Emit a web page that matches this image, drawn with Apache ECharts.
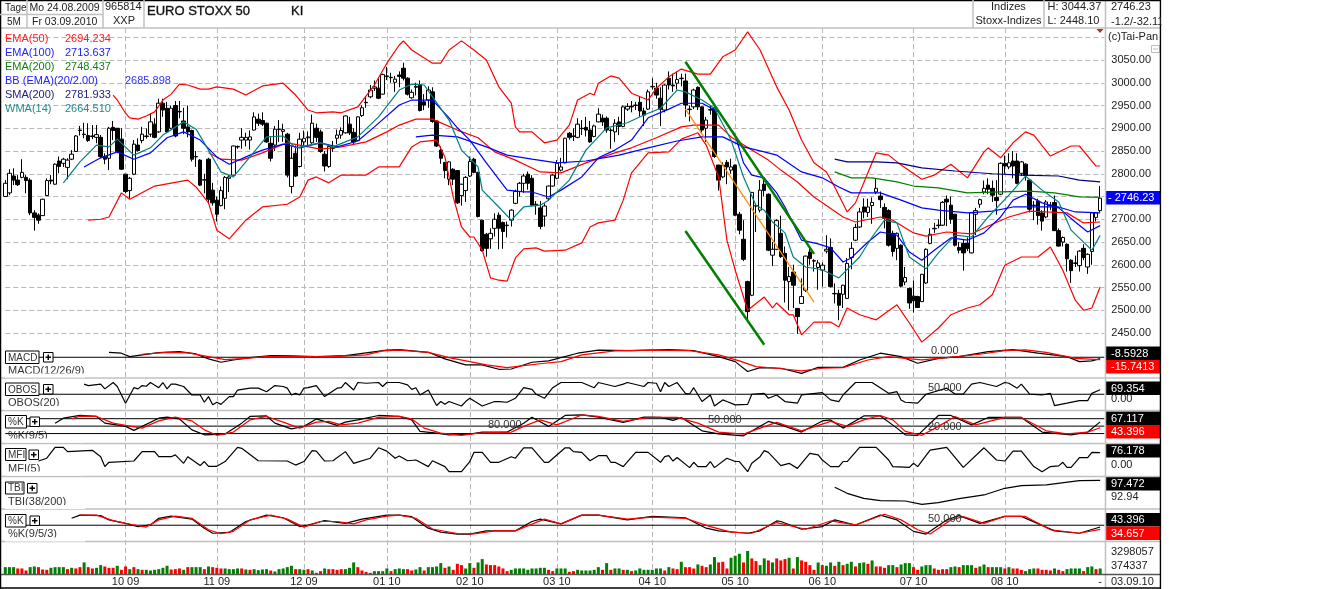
<!DOCTYPE html>
<html>
<head>
<meta charset="utf-8">
<title>EURO STOXX 50</title>
<script src="https://cdn.jsdelivr.net/npm/echarts@6/dist/echarts.min.js"></script>
<style>
  html, body { margin: 0; padding: 0; background: #fff; }
  #chart { width: 1323px; height: 589px; }
</style>
</head>
<body>
<div id="chart"></div>
<script>
// daily candles: [open, close, low, high]
const candles = [
  [2750,2779,2750,2786],[2758,2801,2753,2810],[2795,2786,2775,2812],[2786,2776,2773,2797],[2792,2803,2790,2832],
  [2792,2785,2757,2797],[2786,2714,2709,2790],[2714,2704,2675,2720],[2709,2698,2690,2713],[2708,2744,2708,2745],
  [2752,2785,2751,2790],[2786,2784,2777,2797],[2777,2821,2776,2823],[2828,2816,2801,2838],[2823,2832,2815,2835],
  [2814,2830,2788,2834],[2832,2843,2830,2852],[2849,2883,2848,2885],[2896,2895,2884,2905],[2887,2886,2878,2912],
  [2884,2873,2870,2911],[2883,2882,2876,2907],[2880,2886,2867,2907],[2880,2838,2834,2885],[2838,2832,2821,2845],
  [2834,2900,2808,2903],[2902,2895,2874,2916],[2900,2849,2845,2900],[2876,2810,2808,2900],[2799,2761,2757,2799],
  [2763,2790,2746,2793],[2799,2865,2797,2874],[2863,2851,2849,2878],[2873,2887,2867,2903],[2883,2882,2877,2900],
  [2887,2914,2881,2933],[2909,2880,2878,2922],[2892,2955,2890,2965],[2955,2940,2925,2965],[2944,2892,2890,2958],
  [2900,2944,2898,2950],[2950,2883,2880,2960],[2937,2936,2922,2960],[2916,2900,2887,2945],[2903,2892,2880,2950],
  [2895,2832,2827,2897],[2838,2837,2815,2850],[2830,2775,2773,2832],[2787,2786,2757,2800],[2832,2744,2735,2835],
  [2764,2736,2730,2780],[2742,2711,2695,2750],[2730,2763,2728,2772],[2746,2792,2722,2795],[2790,2793,2760,2797],
  [2797,2861,2796,2862],[2860,2859,2855,2862],[2874,2880,2855,2900],[2874,2880,2860,2890],[2874,2881,2853,2895],
  [2896,2925,2895,2935],[2920,2911,2905,2932],[2917,2909,2905,2935],[2911,2870,2868,2912],[2867,2834,2827,2880],
  [2863,2898,2850,2905],[2898,2897,2870,2918],[2893,2897,2870,2910],[2887,2797,2792,2890],[2772,2834,2757,2860],
  [2845,2795,2793,2862],[2816,2876,2814,2890],[2870,2878,2860,2895],[2879,2881,2860,2893],[2868,2911,2866,2930],
  [2900,2880,2870,2910],[2892,2849,2846,2897],[2843,2817,2805,2850],[2816,2860,2813,2862],[2857,2856,2848,2872],
  [2878,2885,2865,2897],[2885,2895,2877,2902],[2890,2927,2888,2928],[2909,2890,2885,2925],[2891,2870,2865,2900],
  [2873,2925,2872,2926],[2928,2945,2925,2950],[2957,2956,2945,2970],[2969,2984,2966,2995],[2988,2991,2982,3005],
  [2988,2966,2964,3012],[2975,3018,2974,3020],[3015,3014,3006,3035],[3012,3011,3000,3022],[3001,3008,2980,3015],
  [3017,3014,2990,3025],[3032,3010,3005,3044],[3010,2975,2972,3012],[2967,2979,2965,2985],[2990,2992,2972,3000],
  [2996,2939,2937,3005],[2958,2951,2940,2975],[2962,2984,2945,2992],[2980,2915,2912,2990],[2916,2861,2859,2917],
  [2852,2834,2822,2860],[2825,2807,2790,2826],[2788,2826,2775,2827],[2810,2788,2775,2812],[2807,2736,2734,2808],
  [2752,2777,2730,2778],[2763,2792,2738,2795],[2795,2827,2793,2838],[2832,2803,2801,2835],[2803,2706,2704,2804],
  [2698,2631,2629,2699],[2667,2636,2618,2670],[2657,2669,2635,2680],[2680,2700,2662,2713],[2709,2680,2634,2715],
  [2693,2673,2635,2695],[2687,2686,2660,2695],[2698,2720,2684,2722],[2735,2761,2733,2765],[2761,2779,2750,2782],
  [2779,2795,2758,2800],[2799,2779,2765,2805],[2790,2731,2729,2797],[2733,2730,2710,2740],[2725,2684,2678,2740],
  [2707,2729,2684,2735],[2745,2773,2740,2774],[2773,2797,2772,2800],[2790,2823,2788,2830],[2808,2815,2805,2835],
  [2824,2878,2823,2879],[2889,2880,2875,2892],[2883,2882,2872,2900],[2880,2909,2878,2922],[2900,2899,2885,2918],
  [2902,2896,2882,2925],[2896,2870,2868,2916],[2882,2905,2880,2908],[2914,2931,2913,2944],[2922,2914,2905,2930],
  [2922,2896,2890,2926],[2896,2895,2855,2900],[2892,2911,2870,2920],[2914,2904,2885,2925],[2904,2947,2902,2950],
  [2942,2948,2938,2955],[2948,2947,2935,2960],[2950,2951,2940,2958],[2957,2938,2925,2970],[2938,2929,2905,2945],
  [2942,2980,2940,2985],[2992,2991,2985,3010],[2988,2973,2965,3000],[2966,2942,2905,2990],[2940,2995,2935,2997],
  [3010,2995,2985,3025],[2995,2993,2980,3020],[2999,3007,2985,3025],[3010,3009,2992,3020],[3004,2951,2925,3020],
  [2942,2941,2915,2950],[2947,2984,2942,2987],[2990,2947,2940,2992],[2947,2896,2890,2948],[2900,2918,2870,2925],
  [2940,2941,2930,2950],[2944,2838,2835,2946],[2819,2786,2763,2820],[2793,2819,2790,2825],[2825,2815,2777,2830],
  [2808,2815,2800,2833],[2819,2709,2707,2820],[2711,2676,2667,2716],[2656,2612,2608,2698],[2563,2497,2475,2565],
  [2533,2759,2531,2760],[2730,2729,2672,2735],[2720,2764,2715,2786],[2777,2763,2750,2790],[2755,2632,2630,2757],
  [2621,2634,2597,2650],[2634,2697,2632,2700],[2669,2618,2615,2708],[2625,2566,2517,2640],[2563,2574,2500,2595],
  [2584,2555,2505,2600],[2504,2486,2448,2505],[2515,2530,2514,2570],[2544,2619,2540,2620],[2628,2614,2600,2640],
  [2609,2608,2585,2612],[2594,2604,2545,2610],[2588,2599,2552,2605],[2630,2634,2625,2665],[2638,2552,2550,2658],
  [2537,2536,2515,2559],[2537,2511,2478,2545],[2535,2555,2505,2556],[2526,2603,2525,2615],[2616,2636,2590,2650],
  [2654,2682,2652,2690],[2683,2716,2681,2725],[2727,2716,2702,2746],[2715,2727,2705,2745],[2730,2737,2690,2748],
  [2760,2768,2755,2789],[2751,2743,2725,2761],[2726,2702,2680,2735],[2719,2643,2640,2722],[2669,2629,2618,2675],
  [2636,2669,2610,2671],[2643,2553,2550,2645],[2562,2572,2555,2595],[2548,2516,2503,2550],[2531,2521,2495,2565],
  [2530,2506,2505,2532],[2519,2579,2518,2580],[2560,2634,2558,2636],[2647,2667,2645,2680],[2680,2679,2670,2692],
  [2687,2686,2680,2700],[2687,2737,2685,2740],[2744,2738,2685,2752],[2731,2700,2690,2750],[2711,2643,2640,2712],
  [2638,2632,2625,2650],[2647,2626,2587,2655],[2647,2636,2630,2660],[2626,2714,2625,2716],[2711,2719,2665,2725],
  [2733,2743,2725,2745],[2760,2768,2755,2785],[2775,2766,2755,2790],[2768,2753,2738,2785],[2748,2741,2710,2786],
  [2755,2823,2753,2825],[2823,2817,2800,2840],[2815,2824,2810,2845],[2828,2817,2790,2850],[2828,2779,2777,2845],
  [2801,2826,2795,2828],[2821,2796,2785,2823],[2786,2722,2715,2788],[2731,2730,2698,2740],[2740,2708,2688,2745],
  [2714,2696,2675,2720],[2705,2738,2702,2742],[2731,2730,2720,2738],[2737,2675,2674,2752],[2675,2641,2640,2680],
  [2650,2660,2640,2662],[2645,2613,2585,2647],[2610,2587,2560,2612],[2604,2603,2595,2620],[2598,2630,2585,2632],
  [2636,2616,2610,2645],[2595,2623,2580,2625],[2629,2714,2600,2716],[2704,2714,2695,2716],[2719,2746.23,2715,2773]
]

// overlays, sampled along the curves: [bar index, value]
const bbUpper = [[26,2973],[27,2962],[29,2933],[30,2923],[32,2920],[34,2927],[36,2936],[38,2962],[40,2975],[42,2997],[44,2995],[47,2986],[49,2986],[51,2991],[55,2986],[58,2973],[62,2993],[67,2999],[70,2973],[73,2940],[75,2934],[79,2936],[81,2934],[85,2947],[89,2995],[92,3043],[95,3083],[96,3092],[98,3072],[103,3043],[105,3043],[107,3072],[110,3092],[113,3072],[116,3050],[119,2991],[122,2955],[123,2903],[124,2892],[127,2892],[130,2868],[133,2874],[136,2907],[138,2962],[141,2977],[142,2973],[143,2999],[146,3015],[148,3010],[151,2977],[155,2962],[157,2988],[160,3013],[163,3030],[167,3019],[170,3019],[173,3057],[176,3072],[179,3112],[182,3072],[186,2991],[189,2940],[192,2874],[195,2824],[198,2804],[200,2771],[203,2716],[205,2736],[208,2802],[210,2846],[213,2841],[216,2819],[221,2788],[224,2797],[228,2821],[232,2791],[236,2848],[237,2857],[240,2835],[243,2868],[246,2892],[248,2885],[252,2839],[257,2861],[259,2861],[263,2817],[264,2817]]
const bbLower = [[20,2698],[23,2700],[25,2705],[28,2758],[30,2744],[36,2773],[44,2786],[46,2771],[49,2736],[51,2676],[54,2657],[58,2698],[62,2727],[68,2733],[71,2749],[73,2786],[75,2793],[78,2780],[81,2797],[87,2797],[90,2815],[95,2815],[98,2859],[100,2870],[104,2874],[106,2837],[108,2749],[110,2683],[112,2661],[113,2661],[115,2632],[117,2571],[119,2566],[121,2564],[123,2615],[125,2635],[128,2637],[130,2630],[135,2632],[139,2648],[141,2683],[143,2692],[147,2698],[149,2742],[151,2802],[155,2846],[160,2848],[163,2876],[167,2890],[169,2863],[172,2793],[174,2654],[176,2588],[179,2500],[183,2529],[185,2505],[186,2516],[189,2490],[190,2490],[192,2446],[195,2474],[199,2474],[201,2463],[203,2505],[206,2490],[210,2479],[215,2512],[218,2472],[221,2430],[225,2461],[228,2490],[232,2505],[235,2512],[238,2534],[241,2599],[245,2617],[249,2617],[252,2639],[255,2588],[258,2522],[260,2500],[262,2505],[264,2551]]
const bbMid = [[19,2815],[23,2835],[27,2848],[31,2832],[35,2846],[39,2879],[43,2892],[47,2874],[51,2837],[54,2821],[59,2841],[62,2852],[67,2865],[71,2857],[76,2868],[80,2859],[85,2872],[89,2903],[95,2951],[98,2962],[103,2962],[107,2923],[109,2901],[112,2874],[116,2824],[121,2764],[125,2760],[127,2760],[131,2749],[134,2764],[139,2793],[143,2835],[147,2852],[151,2874],[155,2923],[160,2942],[163,2955],[168,2955],[172,2936],[176,2885],[178,2824],[180,2797],[183,2791],[186,2758],[188,2727],[192,2654],[196,2646],[199,2637],[202,2606],[204,2615],[208,2650],[211,2672],[215,2665],[218,2628],[221,2610],[224,2632],[228,2659],[232,2654],[236,2670],[240,2705],[243,2742],[246,2755],[250,2736],[254,2725],[258,2694],[261,2672],[264,2686]]
const ema50 = [[49,2846],[52,2832],[57,2830],[62,2846],[68,2868],[76,2854],[81,2859],[87,2870],[92,2892],[95,2907],[99,2920],[103,2920],[109,2896],[114,2879],[118,2848],[123,2830],[129,2804],[134,2802],[140,2824],[147,2846],[151,2857],[157,2879],[163,2903],[166,2907],[172,2907],[175,2881],[180,2852],[184,2830],[187,2808],[191,2782],[195,2749],[202,2705],[205,2694],[211,2705],[214,2698],[219,2670],[222,2663],[227,2672],[233,2668],[237,2685],[242,2705],[247,2718],[251,2716],[256,2714],[260,2692],[264,2694]]
const ema100 = [[99,2881],[103,2885],[109,2881],[116,2859],[121,2841],[127,2832],[133,2824],[140,2828],[148,2841],[155,2857],[162,2872],[168,2881],[173,2881],[178,2859],[183,2848],[186,2841],[192,2804],[197,2791],[201,2771],[204,2758],[211,2758],[216,2742],[221,2725],[225,2720],[232,2714],[238,2718],[243,2727],[248,2727],[254,2727],[258,2716],[264,2714]]
const ema200 = [[200,2804],[204,2791],[209,2791],[215,2782],[219,2773],[225,2769],[232,2758],[240,2760],[247,2762],[253,2758],[259,2749],[264,2748]]
const sma200 = [[200,2832],[203,2826],[210,2826],[215,2824],[221,2813],[229,2806],[238,2800],[245,2797],[254,2795],[259,2786],[264,2782]]
const wma14 = [[14,2780],[18,2826],[22,2863],[25,2859],[27,2876],[31,2841],[35,2857],[38,2885],[43,2914],[46,2898],[49,2852],[52,2804],[55,2793],[59,2837],[63,2881],[67,2883],[70,2857],[76,2868],[79,2859],[85,2881],[90,2925],[95,2984],[98,2997],[101,2995],[103,2969],[107,2918],[110,2852],[114,2815],[115,2764],[119,2727],[122,2698],[125,2727],[129,2731],[131,2742],[136,2786],[140,2852],[145,2901],[150,2912],[154,2929],[158,2944],[162,2984],[164,2980],[168,2962],[171,2944],[175,2874],[178,2793],[181,2731],[183,2720],[185,2694],[188,2670],[190,2617],[193,2595],[197,2589],[201,2571],[206,2617],[209,2661],[212,2698],[215,2692],[218,2617],[222,2591],[225,2626],[229,2665],[233,2661],[237,2705],[242,2753],[246,2795],[250,2764],[254,2738],[257,2676],[262,2632],[264,2664.51]]
// hand drawn trend lines
const trendUpper = [[164,3046],[195,2624]]
const trendLower = [[164,2674],[183,2424]]
const trendOrange = [[164,2942],[195,2518]]

const macd = [[25,33],[28,27],[30,4],[33,16],[37,31],[42,38],[46,22],[49,-11],[52,-33],[55,-18],[59,-2],[64,11],[69,9],[75,4],[82,11],[87,29],[92,47],[95,51],[102,33],[106,-11],[111,-51],[115,-51],[119,-80],[122,-78],[127,-33],[131,-24],[138,27],[143,47],[151,44],[160,51],[166,44],[172,4],[176,-29],[179,-95],[182,-69],[187,-73],[192,-107],[196,-67],[202,-67],[206,-18],[211,27],[216,4],[220,-40],[225,-7],[230,4],[237,38],[243,51],[249,27],[256,4],[259,-29],[262,-24],[264,-8.59]]
const macdSignal = [[33,20],[39,33],[44,29],[49,4],[53,-16],[58,-7],[63,4],[71,4],[79,4],[87,16],[91,42],[95,47],[102,33],[107,-2],[112,-29],[116,-51],[121,-69],[125,-56],[130,-40],[134,-29],[139,16],[147,42],[155,47],[165,44],[172,16],[177,-24],[181,-62],[186,-73],[192,-91],[197,-73],[202,-69],[208,-18],[213,4],[217,-7],[221,-18],[227,-2],[235,20],[241,44],[246,49],[251,33],[258,-7],[264,-15.74]]
const obos = [[19,93],[20,87],[23,93],[24,73],[26,100],[27,83],[29,12],[31,78],[32,73],[33,87],[34,84],[35,100],[37,78],[38,100],[39,73],[40,93],[41,93],[43,83],[45,47],[47,47],[48,16],[49,40],[50,5],[51,16],[52,7],[54,40],[55,40],[56,68],[59,76],[61,76],[63,61],[65,87],[67,83],[68,76],[69,47],[70,54],[71,47],[72,76],[73,78],[75,87],[77,40],[80,76],[81,78],[82,100],[84,68],[85,100],[87,97],[90,100],[91,83],[92,100],[95,100],[97,90],[98,71],[99,78],[100,47],[102,68],[104,2],[105,19],[106,7],[107,19],[110,0],[111,19],[112,33],[115,0],[118,19],[119,19],[121,16],[123,33],[125,78],[127,71],[128,50],[130,33],[132,78],[134,100],[139,100],[142,78],[143,100],[147,83],[149,93],[150,100],[154,83],[155,100],[157,97],[158,61],[159,100],[160,83],[162,100],[164,54],[165,51],[166,78],[168,19],[169,33],[170,47],[171,0],[173,26],[174,19],[176,5],[179,7],[180,50],[183,54],[184,33],[186,47],[188,19],[191,12],[192,47],[197,57],[199,26],[201,19],[202,47],[205,100],[209,100],[213,54],[215,61],[216,26],[217,16],[220,12],[222,50],[227,76],[229,51],[231,51],[233,93],[235,100],[239,83],[241,100],[242,97],[244,76],[245,93],[247,51],[250,47],[252,54],[253,2],[256,12],[259,23],[261,23],[262,54],[264,69.354]]
const stochK = [[12,62],[14,82],[18,93],[22,89],[24,62],[29,49],[31,33],[33,49],[37,82],[39,86],[42,79],[45,35],[48,15],[53,18],[57,62],[59,89],[63,91],[65,62],[69,39],[72,49],[75,79],[80,53],[82,66],[85,75],[90,93],[95,89],[98,75],[100,29],[104,22],[107,15],[112,18],[115,26],[121,26],[125,62],[127,86],[131,49],[135,93],[139,95],[143,86],[149,65],[154,86],[158,85],[161,73],[163,85],[168,31],[172,19],[178,11],[184,69],[187,55],[192,26],[197,71],[199,75],[202,42],[207,91],[211,91],[215,42],[217,15],[220,13],[225,93],[228,93],[233,55],[237,85],[245,85],[250,26],[257,15],[261,26],[264,67.117]]
const stochD = [[16,79],[18,90],[22,89],[26,62],[29,53],[33,42],[37,71],[41,86],[45,71],[48,35],[51,13],[55,26],[59,75],[63,89],[67,66],[71,42],[75,66],[78,69],[81,55],[85,62],[90,85],[95,89],[98,79],[101,42],[105,22],[110,13],[114,22],[122,26],[125,49],[129,75],[133,55],[139,95],[143,89],[149,69],[155,85],[162,85],[167,62],[172,26],[178,18],[182,42],[186,65],[192,31],[199,69],[203,49],[207,75],[211,93],[214,75],[217,29],[221,13],[225,49],[229,89],[234,55],[241,85],[245,85],[251,31],[256,19],[261,26],[264,43.396]]
const mfi = [[8,43],[10,54],[12,97],[14,97],[15,80],[21,85],[23,60],[24,21],[25,38],[31,43],[33,80],[36,80],[37,60],[40,60],[41,67],[43,34],[44,60],[47,25],[48,41],[49,22],[51,22],[53,41],[56,97],[57,93],[61,44],[68,43],[70,27],[72,41],[74,84],[75,82],[77,43],[79,44],[82,80],[84,34],[88,54],[90,95],[92,82],[94,54],[95,63],[97,44],[99,47],[102,21],[103,44],[106,21],[107,1],[110,1],[112,41],[113,77],[115,77],[117,38],[119,38],[122,60],[123,54],[125,95],[127,95],[130,38],[131,38],[135,95],[136,95],[137,80],[139,77],[141,44],[143,64],[145,64],[146,38],[147,38],[149,21],[152,77],[155,77],[158,38],[159,60],[160,64],[161,43],[162,57],[165,17],[166,38],[167,21],[169,21],[170,41],[171,17],[174,54],[176,41],[177,41],[179,1],[180,34],[182,60],[183,84],[184,77],[187,25],[189,34],[191,14],[194,73],[196,67],[197,47],[199,21],[201,21],[202,41],[203,41],[206,97],[210,97],[213,47],[214,21],[218,18],[219,34],[220,21],[223,86],[227,97],[231,18],[236,95],[239,47],[241,43],[243,82],[245,82],[248,21],[250,1],[252,21],[254,24],[255,38],[256,18],[257,18],[259,56],[261,56],[262,77],[264,76.178]]
const tbi = [[200,96.15],[203,95.02],[207,94.07],[211,93.63],[217,93.57],[221,92.94],[225,93.26],[230,94.01],[236,94.71],[241,95.97],[245,96.47],[251,96.6],[259,97.41],[264,97.472]]
const slowK = [[16,76],[18,88],[23,86],[25,70],[29,57],[32,45],[35,51],[37,76],[40,84],[45,73],[48,39],[50,20],[54,23],[58,64],[63,88],[67,78],[71,45],[73,51],[77,67],[82,57],[86,73],[92,88],[95,88],[98,82],[102,39],[105,24],[109,17],[112,17],[116,29],[123,29],[127,64],[129,73],[134,55],[139,88],[143,88],[150,70],[156,83],[164,78],[169,39],[172,29],[179,20],[182,29],[186,66],[187,64],[192,35],[197,45],[200,70],[205,51],[211,88],[215,70],[219,27],[222,17],[227,70],[230,86],[235,57],[241,83],[245,83],[253,29],[259,20],[264,43.396]]
const slowD = [[18,88],[22,88],[26,67],[31,51],[34,43],[37,70],[41,84],[45,76],[49,33],[52,18],[55,27],[59,70],[64,88],[68,73],[72,43],[76,64],[80,64],[84,55],[87,70],[92,84],[95,88],[99,76],[103,36],[109,19],[113,18],[118,29],[123,29],[127,54],[130,73],[134,55],[139,88],[143,88],[150,73],[156,80],[164,76],[170,45],[175,24],[180,20],[186,60],[193,35],[199,66],[205,51],[212,91],[216,70],[220,33],[223,17],[228,70],[231,82],[236,57],[241,83],[246,83],[252,33],[259,20],[264,34.657]]

// volume in thousands, colour flag per bar
const volumes = [
  1034,1034,1034,846,846,564,1034,1128,1034,705,658,940,1034,1034,1034,752,940,846,1034,1692,
  1034,846,940,1316,1128,940,940,1222,658,1128,752,1034,752,658,658,564,658,752,940,1222,
  705,752,846,658,1034,1034,1034,1034,752,1128,1034,940,846,846,752,752,846,846,705,658,
  752,611,705,752,564,423,752,846,1034,1222,752,752,658,752,564,235,470,846,752,752,
  658,752,752,940,1692,1034,564,376,235,470,470,470,846,470,752,
  846,752,752,564,705,1034,564,1034,1034,1128,1598,940,1128,658,1504,1316,846,1598,940,1692,
  2162,1410,1316,1316,1128,846,470,658,846,846,846,658,846,846,940,940,658,470,846,846,
  846,376,470,658,564,564,564,658,1034,658,1598,658,846,846,658,658,470,564,846,658,
  658,658,846,846,564,1034,846,752,1786,1034,1034,846,1410,1222,1034,1410,2444,1692,1786,846,
  2350,2632,2914,1692,3298,2256,1880,1316,2256,1974,1692,2256,
  1974,2162,2350,846,2444,1974,1786,1316,658,1692,1316,1222,1692,1222,1786,1316,1504,1786,1128,1598,
  1692,1504,1974,1128,1128,940,1316,1316,1034,1410,1598,1598,1034,658,1128,1316,1316,846,658,752,
  752,1034,1128,1034,1316,1316,1316,940,1128,1410,1034,1034,1034,1034,846,1034,846,846,658,470,
  752,846,846,658,658,564,846,658,470,752,846,846,846,470,1034,1128,752,846
]
const volumeFlags =
  'gggrrrggrrrggggrgrrg' + 'rrggrrrgrr' + 'grgrgggggg' + 'rrrgrgggrg' + 'rrrggggrgr' + 'ggggrggggg' + 'rggrgrrgrr' + 'rrgggrrrrg' + 'gggrg' +
  'ggrrggrggg' + 'grgrrrggrg' + 'grrrrrrggg' + 'ggggggrrgg' + 'grrggggggr' + 'grggrgrggg' + 'ggggrgrrgr' + 'rrgrrggrrr' + 'gggrgrrggr' + 'gr' +
  'rrgrgrrrrg' + 'rggrgrggrg' + 'grgrrrggrg' + 'ggrrgggrrr' + 'rggrgggrgg' + 'rgggrgrrrg' + 'ggrrrrgrrg' + 'gggrggrg'

// bar index where each month starts and its axis label
const monthBars = [29, 51, 72, 92, 112, 133, 156, 176, 197, 219, 241]
const monthLabels = ['10 09', '11 09', '12 09', '01 10', '02 10', '03 10', '04 10', '05 10', '06 10', '07 10', '08 10']
const priceTicks = { min: 2450, max: 3100, interval: 50 }

const barCount = candles.length + 1 // one blank slot so the panels reach the price scale
const categories = []
for (let i = 0; i < barCount; i++) {
  let m = monthBars.indexOf(i)
  categories.push(m >= 0 ? monthLabels[m] : (i === barCount - 2 ? '-' : ''))
}

const FONT = '11px "Liberation Sans"'
const SMALL = '10px "Liberation Sans"'
const chartLeft = 5.3
const chartWidth = 1099

// grid 0 only carries the month lines, the rest hold one panel each
const panels = [
  { top: 28, height: 546, min: 0, max: 1 },
  { top: 37.25, height: 295.75, min: priceTicks.min, max: priceTicks.max },
  { top: 346, height: 32, min: -138, max: 75 },
  { top: 379, height: 31, min: -17, max: 115 },
  { top: 411, height: 32, min: -18, max: 111 },
  { top: 444, height: 32, min: -16, max: 110 },
  { top: 477, height: 32, min: 92.06, max: 98.1 },
  { top: 510, height: 31, min: -9, max: 107 },
  { top: 551, height: 23.5, min: 0, max: 3298 }
]
const gridDash = { color: '#b7b7b7', width: 1, type: [5, 3] }

function lineSeries (panel, data, color, width) {
  return {
    type: 'line',
    xAxisIndex: panel,
    yAxisIndex: panel,
    data: data,
    symbol: 'none',
    clip: false,
    silent: true,
    z: 3,
    lineStyle: { color: color, width: width || 1.2 }
  }
}
function levelLine (panel, value) {
  return lineSeries(panel, [[0, value], [barCount - 1, value]], '#000', 1)
}

const series = [
  {
    type: 'candlestick',
    xAxisIndex: 1,
    yAxisIndex: 1,
    data: candles,
    barWidth: 4,
    clip: false,
    silent: true,
    itemStyle: { color: '#fff', color0: '#000', borderColor: '#000', borderColor0: '#000', borderWidth: 1 }
  },
  lineSeries(1, bbUpper, '#ff0000'),
  lineSeries(1, bbLower, '#ff0000'),
  lineSeries(1, ema50, '#ff0000'),
  lineSeries(1, bbMid, '#0000ff'),
  lineSeries(1, ema100, '#0000ff'),
  lineSeries(1, ema200, '#007f00'),
  lineSeries(1, sma200, '#000080'),
  lineSeries(1, wma14, '#008080'),
  lineSeries(1, trendOrange, '#ff8c00'),
  lineSeries(1, trendUpper, '#007f00', 2.5),
  lineSeries(1, trendLower, '#007f00', 2.5),
  levelLine(2, 0),
  lineSeries(2, macd, '#000'),
  lineSeries(2, macdSignal, '#ff0000'),
  levelLine(3, 50),
  lineSeries(3, obos, '#000'),
  levelLine(4, 80),
  levelLine(4, 50),
  levelLine(4, 20),
  lineSeries(4, stochK, '#000'),
  lineSeries(4, stochD, '#ff0000'),
  lineSeries(5, mfi, '#000'),
  lineSeries(6, tbi, '#000'),
  levelLine(7, 50),
  lineSeries(7, slowK, '#000'),
  lineSeries(7, slowD, '#ff0000'),
  {
    type: 'bar',
    xAxisIndex: 8,
    yAxisIndex: 8,
    barWidth: 3,
    silent: true,
    data: volumes.map((v, i) => ({
      value: v,
      itemStyle: { color: volumeFlags[i] === 'g' ? '#007f00' : '#ff0000' }
    }))
  }
]

// frame, header and the text around the panels
const graphic = []
function text (x, y, str, color, extra) {
  graphic.push({
    type: 'text',
    z: 100,
    silent: true,
    style: Object.assign({ x: x, y: y, text: str, fill: color || '#222', font: FONT, verticalAlign: 'middle' }, extra || {})
  })
}
function box (x, y, w, h, fill, stroke, z) {
  graphic.push({
    type: 'rect',
    z: z || 90,
    silent: true,
    shape: { x: x, y: y, width: w, height: h },
    style: { fill: fill, stroke: stroke || null, lineWidth: 1 }
  })
}
function rule (x1, y1, x2, y2, color, width) {
  graphic.push({
    type: 'line',
    z: 95,
    silent: true,
    shape: { x1: x1, y1: y1, x2: x2, y2: y2 },
    style: { stroke: color, lineWidth: width || 1 }
  })
}

// panel separators
;[28, 378, 410.5, 443.5, 476.5, 509, 541.5].forEach(y => rule(0, y, 1160, y, '#c0c0c0', 1.5))
rule(1105.5, 0, 1105.5, 588, '#c0c0c0', 1.5)
rule(0, 574.5, 1160, 574.5, '#555', 1.5)
rule(0.5, 0, 0.5, 589, '#000', 1.5)
rule(0, 0.5, 1160, 0.5, '#000', 1.5)
rule(0, 588, 1160, 588, '#000', 1.5)
rule(1160.5, 0, 1160.5, 589, '#000', 1.5)
// header cells
;[27, 103, 144, 973, 1044].forEach(x => rule(x, 0, x, 28, '#c0c0c0', 1.5))
rule(0, 14.5, 103, 14.5, '#c0c0c0', 1.5)

text(5, 8, 'Tage', '#222', { font: SMALL })
text(7, 22, '5M', '#222', { font: SMALL })
text(29.5, 8, 'Mo 24.08.2009', '#222', { font: '10.5px "Liberation Sans"' })
text(32, 22, 'Fr 03.09.2010', '#222', { font: '10.5px "Liberation Sans"' })
text(105, 7, '965814')
text(113, 21, 'XXP')
text(147, 11, 'EURO STOXX 50', '#111', { font: '13px "Liberation Sans"', stroke: '#111', lineWidth: 0.35 })
text(291, 11, 'KI', '#111', { font: '13px "Liberation Sans"', stroke: '#111', lineWidth: 0.35 })
text(991, 7, 'Indizes')
text(975.5, 21, 'Stoxx-Indizes')
text(1047.5, 7, 'H: 3044.37')
text(1047.5, 21, 'L: 2448.10')
text(1111, 7, '2746.23')
text(1111, 22, '-1.2/-32.11')
text(1108, 37, '(c)Tai-Pan')
box(1151.5, 45.5, 8, 7, '#fff', '#bbb')
rule(1153, 49, 1158, 49, '#bbb')
graphic.push({
  type: 'polygon', z: 95, silent: true,
  shape: { points: [[1096.5, 29], [1103.5, 29], [1100, 33]] },
  style: { fill: '#b03030' }
})

// indicator legend
const legendRows = [
  ['EMA(50)', '2694.234', '#ff2020'],
  ['EMA(100)', '2713.637', '#2020ff'],
  ['EMA(200)', '2748.437', '#108010'],
  ['BB (EMA)(20/2.00)', '', '#2020ff'],
  ['SMA(200)', '2781.933', '#20207f'],
  ['WMA(14)', '2664.510', '#208a8a']
]
legendRows.forEach((row, i) => {
  text(5, 39 + i * 14, row[0], row[2])
  if (row[1]) text(65, 39 + i * 14, row[1], row[2])
})
text(125, 81, '2685.898', '#3030ff')

// current price tag
box(1106, 191, 54, 13.5, '#0000ff')
text(1108, 197.8, '- 2746.23', '#fff')

// caption boxes per panel
const tagRows = [
  ['MACD', 351, 33.5, 12.5, 43.5, 'MACD(12/26/9)', 370.5, 373.5],
  ['OBOS', 383, 33.5, 12.5, 43.5, 'OBOS(20)', 403, 406],
  ['%K', 415.5, 21, 12.5, 30, '%K(9/5)', 435.5, 438.5],
  ['MFI', 448.5, 20.5, 12, 29, 'MFI(5)', 468.5, 471.5],
  ['TBI', 482, 18.5, 12, 27.5, 'TBI(38/200)', 502, 505],
  ['%K', 514.5, 20.5, 12.5, 30, '%K(9/5/3)', 534, 537.5]
]
tagRows.forEach(t => {
  box(5.5, t[1], t[2], t[3], '#fff', '#000')
  text(8, t[1] + t[3] / 2 + 0.5, t[0], '#333', { font: SMALL })
  box(t[4], t[1] + 1.5, 9.5, 9.5, '#fff', '#000')
  rule(t[4] + 2, t[1] + 6.2, t[4] + 7.5, t[1] + 6.2, '#000', 1.5)
  rule(t[4] + 4.75, t[1] + 3.5, t[4] + 4.75, t[1] + 9, '#000', 1.5)
  text(8, t[6], t[5], '#333')
  // the caption is cut off by the panel below it
  box(5, t[7], 80, 4, '#fff', null, 101)
})

// level captions inside the panels
text(931, 351, '0.000', '#333')
text(928, 388, '50.000', '#333')
text(488, 425, '80.000', '#333')
text(708, 420, '50.000', '#333')
text(928, 427, '20.000', '#333')
text(928, 519, '50.000', '#333')

// last values on the right
const valueRows = [
  ['-8.5928', 346.5, '#000', '#fff'],
  ['-15.7413', 360, '#ff0000', '#fff'],
  ['69.354', 381.5, '#000', '#fff'],
  ['67.117', 411.5, '#000', '#fff'],
  ['43.396', 425, '#ff0000', '#fff'],
  ['76.178', 444, '#000', '#fff'],
  ['97.472', 477, '#000', '#fff'],
  ['43.396', 513, '#000', '#fff'],
  ['34.657', 526.5, '#ff0000', '#fff']
]
valueRows.forEach(v => {
  box(1106, v[1], 54, 13.5, v[2])
  text(1111, v[1] + 7, v[0], v[3])
})
text(1111, 399, '0.00')
text(1111, 464.5, '0.00')
text(1111, 497, '92.94')
text(1111, 552, '3298057')
text(1111, 566, '374337')
text(1111, 582, '03.09.10')

// anything past the right frame stays blank
box(1161.5, 0, 162, 589, '#fff', null, 101)

const chart = echarts.init(document.getElementById('chart'), null, { renderer: 'canvas' })
chart.setOption({
  animation: false,
  backgroundColor: '#fff',
  grid: panels.map(p => ({ left: chartLeft, width: chartWidth, top: p.top, height: p.height })),
  xAxis: panels.map((p, i) => ({
    type: 'category',
    gridIndex: i,
    data: categories,
    boundaryGap: false,
    show: i === 0,
    axisLine: { show: false },
    axisTick: { show: false },
    axisLabel: { show: i === 0, interval: 0, margin: 2, color: '#222', fontFamily: 'Liberation Sans', fontSize: 11 },
    splitLine: { show: i === 0, interval: idx => monthBars.indexOf(idx) >= 0, lineStyle: gridDash }
  })),
  yAxis: panels.map((p, i) => {
    if (i === 1) {
      return {
        type: 'value',
        gridIndex: i,
        position: 'right',
        min: p.min,
        max: p.max,
        interval: priceTicks.interval,
        axisLine: { show: false },
        axisTick: { show: false },
        splitLine: { show: true, lineStyle: gridDash },
        axisLabel: {
          margin: 7,
          color: '#222',
          fontFamily: 'Liberation Sans',
          fontSize: 11,
          padding: [2, 0, 0, 0],
          formatter: v => (v === priceTicks.max ? '' : v.toFixed(2))
        }
      }
    }
    return { type: 'value', gridIndex: i, show: false, min: p.min, max: p.max, splitLine: { show: false } }
  }),
  series: series,
  graphic: { elements: graphic }
})
</script>
</body>
</html>
